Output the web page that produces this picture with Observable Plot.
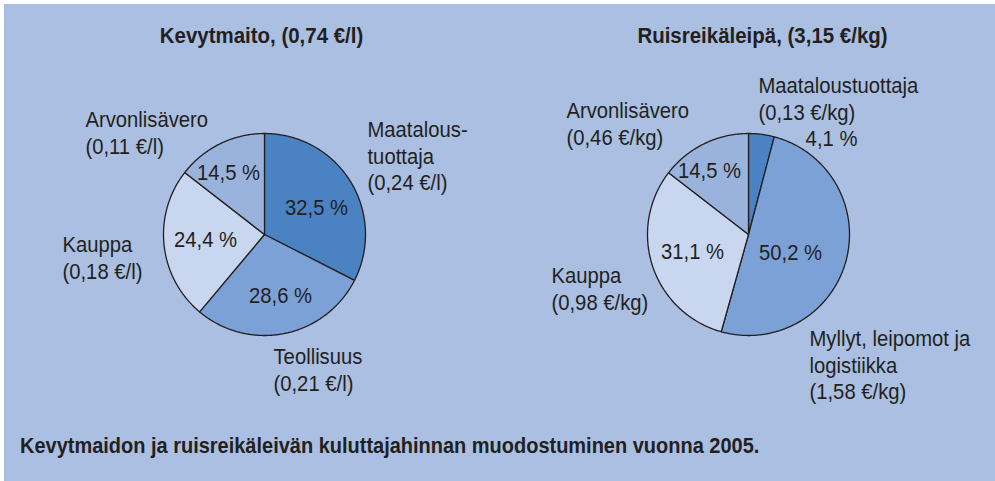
<!DOCTYPE html>
<html>
<head>
<meta charset="utf-8">
<script src="https://cdn.jsdelivr.net/npm/d3@7"></script>
<script src="https://cdn.jsdelivr.net/npm/@observablehq/plot@0.6"></script>
<style>
  html, body { margin: 0; padding: 0; background: #ffffff; }
  #frame {
    position: absolute; left: 4px; top: 4px; width: 991px; height: 477px;
    background: #aabfe1; overflow: hidden;
    font-family: "Liberation Sans", Arial, sans-serif;
    color: #231f20;
  }
  #chart svg { display: block; }
  #caption {
    position: absolute; left: 16px; top: 429px; white-space: nowrap;
    font-size: 22px; font-weight: bold; line-height: 26px; color: #231f20;
    transform: scaleX(0.908); transform-origin: 0 0;
  }
</style>
</head>
<body>
<div id="frame">
  <div id="chart"></div>
  <div id="caption">Kevytmaidon ja ruisreikäleivän kuluttajahinnan muodostuminen vuonna 2005.</div>
</div>
<script>
// ---- data ----
const products = ["Kevytmaito", "Ruisreikäleipä"];
const productPrices = [0.74, 3.15];
const productUnits = ["€/l", "€/kg"];

const milkCategories = ["Maataloustuottaja", "Teollisuus", "Kauppa", "Arvonlisävero"];
const milkLabels = ["Maatalous-\ntuottaja", "Teollisuus", "Kauppa", "Arvonlisävero"];
const milkShares = [32.5, 28.6, 24.4, 14.5];
const milkPrices = [0.24, 0.21, 0.18, 0.11];

const breadCategories = ["Maataloustuottaja", "Myllyt, leipomot ja logistiikka", "Kauppa", "Arvonlisävero"];
const breadLabels = ["Maataloustuottaja", "Myllyt, leipomot ja\nlogistiikka", "Kauppa", "Arvonlisävero"];
const breadShares = [4.1, 50.2, 31.1, 14.5];
const breadPrices = [0.13, 1.58, 0.98, 0.46];

// ---- layout (image pixel coordinates) ----
const W = 995, H = 425, OFF = 4;
const R = 101;
const pieCenters = [[264, 234], [748, 234]];
const titlePos = [[261, 35], [762, 35]];
const categoryColors = {
  "Maataloustuottaja": "#4a82c4",
  "Teollisuus": "#7ba1d6",
  "Myllyt, leipomot ja logistiikka": "#7ba1d6",
  "Kauppa": "#c9d6ef",
  "Arvonlisävero": "#9ab3dc"
};
// percent label positions (centre of text), per pie, in slice order
const pctPos = [
  [[316, 207], [280, 295], [205, 239], [228, 172]],
  [[831, 138], [790, 252], [692, 251], [709, 170]]
];
// category label positions (left x, top of first line), per pie, slice order
const catPos = [
  [[367, 118], [273, 345], [62, 233], [85, 108]],
  [[758, 74], [809, 327], [551, 264], [566, 99]]
];

const fmt = (v, d) => v.toFixed(d).replace(".", ",");

const pies = [
  {cats: milkCategories, labels: milkLabels, shares: milkShares, prices: milkPrices, unit: productUnits[0]},
  {cats: breadCategories, labels: breadLabels, shares: breadShares, prices: breadPrices, unit: productUnits[1]}
];

const slicePts = [];
const pctText = [];
const catText = [];
pies.forEach((p, pi) => {
  const [cx, cy] = pieCenters[pi];
  const arcs = d3.pie().sort(null).value(d => d)(p.shares);
  arcs.forEach((a, i) => {
    const key = `${pi}-${i}`;
    slicePts.push({key, cat: p.cats[i], x: cx, y: cy});
    const n = Math.max(2, Math.ceil((a.endAngle - a.startAngle) / 0.01));
    for (let k = 0; k <= n; k++) {
      const t = a.startAngle + (a.endAngle - a.startAngle) * k / n;
      slicePts.push({key, cat: p.cats[i], x: cx + R * Math.sin(t), y: cy - R * Math.cos(t)});
    }
    slicePts.push({key, cat: p.cats[i], x: cx, y: cy});
    pctText.push({x: pctPos[pi][i][0], y: pctPos[pi][i][1], text: fmt(p.shares[i], 1) + " %"});
    catText.push({x: catPos[pi][i][0], y: catPos[pi][i][1],
      text: p.labels[i] + "\n(" + fmt(p.prices[i], 2) + " " + p.unit + ")"});
  });
});
const titles = products.map((t, i) => ({x: titlePos[i][0], y: titlePos[i][1],
  text: `${t}, (${fmt(productPrices[i], 2)} ${productUnits[i]})`}));

const font = "'Liberation Sans', Arial, sans-serif";

const chart = Plot.plot({
  width: W - OFF,
  height: H - OFF,
  margin: 0,
  style: {background: "transparent", fontFamily: font, color: "#231f20"},
  x: {domain: [OFF, W], range: [0, W - OFF], axis: null},
  y: {domain: [OFF, H], range: [0, H - OFF], axis: null},
  color: {type: "identity"},
  marks: [
    Plot.line(slicePts, {x: "x", y: "y", z: "key", fill: d => categoryColors[d.cat],
      stroke: "#231f20", strokeWidth: 1.3, strokeLinejoin: "round", curve: "linear"}),
    Plot.text(pctText, {x: "x", y: "y", text: "text", fontSize: 22, fill: "#231f20", textAnchor: "middle"}),
    Plot.text(catText, {x: "x", y: "y", text: "text", fontSize: 22, fill: "#231f20",
      textAnchor: "start", lineAnchor: "top", lineHeight: 1.2}),
    Plot.text(titles, {x: "x", y: "y", text: "text", fontSize: 22, fontWeight: "bold",
      fill: "#231f20", textAnchor: "middle", className: "bold-title"})
  ]
});
document.getElementById("chart").appendChild(chart);

// condense the glyphs horizontally, like the narrow typeface of the original
function condense(el, f) {
  const len = el.getComputedTextLength();
  if (len > 0) {
    el.setAttribute("textLength", (len * f).toFixed(2));
    el.setAttribute("lengthAdjust", "spacingAndGlyphs");
  }
}
chart.querySelectorAll("text").forEach(t => {
  const bold = t.closest(".bold-title") !== null;
  const f = bold ? 0.93 : 0.92;
  const spans = t.querySelectorAll("tspan");
  if (spans.length) spans.forEach(s => condense(s, f));
  else condense(t, f);
});
</script>
</body>
</html>
